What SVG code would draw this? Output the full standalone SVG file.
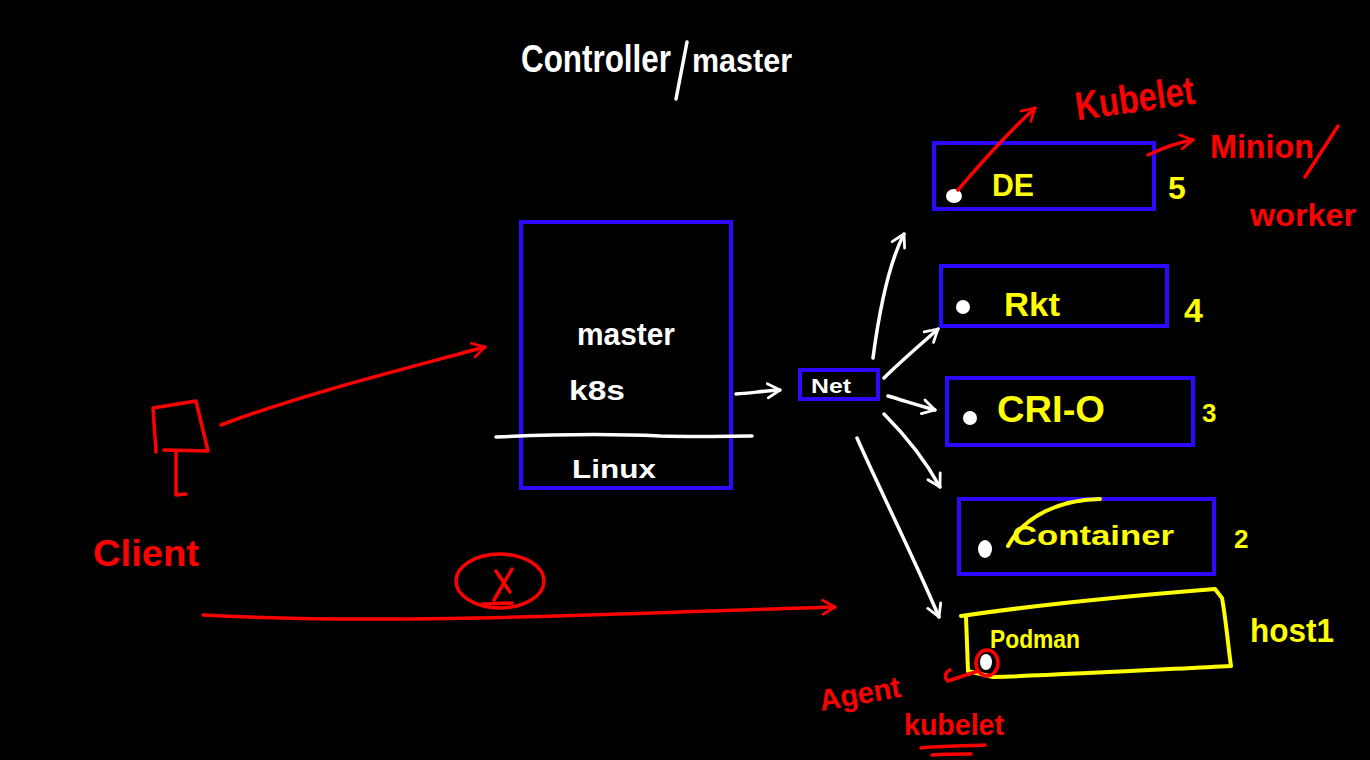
<svg xmlns="http://www.w3.org/2000/svg" width="1370" height="760" viewBox="0 0 1370 760">
<defs>
<style>
.bg{fill:#000}
.box{fill:none;stroke:#2d0aff;stroke-width:4}
.w{fill:none;stroke:#fff;stroke-width:3.5;stroke-linecap:round;stroke-linejoin:round}
.r{fill:none;stroke:#ff0000;stroke-width:3.5;stroke-linecap:round;stroke-linejoin:round}
.y{fill:none;stroke:#ffff00;stroke-width:4;stroke-linecap:round;stroke-linejoin:round}
.t{font-family:"Liberation Sans",Arial,sans-serif;font-weight:bold}
.tw{fill:#fff}.tr{fill:#ff0000}.ty{fill:#ffff00}
.dot{fill:#fff}
</style>
<marker id="aw" viewBox="0 0 10 10" refX="8" refY="5" markerWidth="5" markerHeight="5" orient="auto" markerUnits="strokeWidth"><path d="M1,1 L8,5 L1,9" fill="none" stroke="#fff" stroke-width="1.6" stroke-linecap="round" stroke-linejoin="round"/></marker>
<marker id="ar" viewBox="0 0 10 10" refX="8" refY="5" markerWidth="5" markerHeight="5" orient="auto" markerUnits="strokeWidth"><path d="M1,1 L8,5 L1,9" fill="none" stroke="#ff0000" stroke-width="1.6" stroke-linecap="round" stroke-linejoin="round"/></marker>
</defs>
<rect class="bg" x="0" y="0" width="1370" height="760"/>

<g id="title">
<text class="t tw" x="521" y="72" font-size="38" textLength="150" lengthAdjust="spacingAndGlyphs">Controller</text>
<path class="w" d="M687,42 L676,99"/>
<text class="t tw" x="692" y="72" font-size="34" textLength="100" lengthAdjust="spacingAndGlyphs">master</text>
</g>

<g id="master">
<rect class="box" x="521" y="222" width="210" height="266"/>
<path class="w" d="M496,437 C560,434 620,434 660,436 C700,437 730,436 752,436"/>
<text class="t tw" x="577" y="345" font-size="32" textLength="98" lengthAdjust="spacingAndGlyphs">master</text>
<text class="t tw" x="569" y="400" font-size="28" textLength="56" lengthAdjust="spacingAndGlyphs">k8s</text>
<text class="t tw" x="572" y="478" font-size="26" textLength="84" lengthAdjust="spacingAndGlyphs">Linux</text>
</g>

<g id="net">
<rect class="box" x="800" y="370" width="78" height="29"/>
<text class="t tw" x="811" y="393" font-size="20" textLength="40" lengthAdjust="spacingAndGlyphs">Net</text>
</g>

<g id="node-de">
<rect class="box" x="934" y="143" width="220" height="66"/>
<ellipse class="dot" cx="954" cy="196" rx="8" ry="7"/>
<text class="t ty" x="992" y="196" font-size="32" textLength="42" lengthAdjust="spacingAndGlyphs">DE</text>
<text class="t ty" x="1168" y="199" font-size="32">5</text>
</g>

<g id="node-rkt">
<rect class="box" x="941" y="266" width="226" height="60"/>
<circle class="dot" cx="963" cy="307" r="7"/>
<text class="t ty" x="1004" y="316" font-size="34" textLength="56" lengthAdjust="spacingAndGlyphs">Rkt</text>
<text class="t ty" x="1184" y="322" font-size="34">4</text>
</g>

<g id="node-crio">
<rect class="box" x="947" y="378" width="246" height="67"/>
<circle class="dot" cx="970" cy="418" r="7"/>
<text class="t ty" x="997" y="422" font-size="36" textLength="108" lengthAdjust="spacingAndGlyphs">CRI-O</text>
<text class="t ty" x="1202" y="422" font-size="26">3</text>
</g>

<g id="node-container">
<rect class="box" x="959" y="499" width="255" height="75"/>
<ellipse class="dot" cx="985" cy="549" rx="7" ry="9"/>
<path class="y" d="M1008,546 C1025,515 1060,500 1100,499"/>
<text class="t ty" x="1012" y="545" font-size="28" textLength="162" lengthAdjust="spacingAndGlyphs">Container</text>
<text class="t ty" x="1234" y="548" font-size="26">2</text>
</g>

<g id="node-podman">
<path class="y" d="M961,616 C1050,603 1140,595 1215,589 L1222,598 C1226,620 1228,645 1231,666 C1150,670 1060,675 993,677 L968,671 L966,617"/>
<text class="t ty" x="990" y="648" font-size="26" textLength="90" lengthAdjust="spacingAndGlyphs">Podman</text>
<text class="t ty" x="1250" y="642" font-size="34" textLength="84" lengthAdjust="spacingAndGlyphs">host1</text>
<ellipse class="dot" cx="986" cy="662" rx="6" ry="8"/>
<ellipse class="r" cx="987" cy="663" rx="11" ry="13"/>
<path class="r" d="M978,671 L948,681 C944,678 945,672 950,670"/>
<text class="t tr" x="820" y="704" font-size="30" textLength="82" lengthAdjust="spacingAndGlyphs" transform="rotate(-10 860 700)">Agent</text>
<text class="t tr" x="904" y="735" font-size="30" textLength="100" lengthAdjust="spacingAndGlyphs">kubelet</text>
<path class="r" d="M921,748 C940,746 965,746 985,745"/>
<path class="r" d="M932,755 C945,754 958,754 971,754"/>
</g>

<g id="client">
<path class="r" d="M156,452 L153,408 L196,401 L208,451 L164,450"/>
<path class="r" d="M176,452 L176,495 L186,494"/>
<text class="t tr" x="93" y="566" font-size="36" textLength="106" lengthAdjust="spacingAndGlyphs">Client</text>
</g>

<g id="blocked">
<ellipse class="r" cx="500" cy="581" rx="44" ry="27"/>
<path class="r" d="M496,571 L510,592 M512,569 L494,600"/>
<path class="r" d="M483,604 L512,603"/>
</g>

<g id="annotations">
<text class="t tr" x="1075" y="112" font-size="40" textLength="120" lengthAdjust="spacingAndGlyphs" transform="rotate(-8 1135 100)">Kubelet</text>
<text class="t tr" x="1210" y="158" font-size="34" textLength="104" lengthAdjust="spacingAndGlyphs">Minion</text>
<path class="r" d="M1338,126 L1305,177"/>
<text class="t tr" x="1250" y="226" font-size="32" textLength="106" lengthAdjust="spacingAndGlyphs">worker</text>
</g>

<g id="connectors">
<path class="w" d="M736,394 C750,393 765,391 780,390" marker-end="url(#aw)"/>
<path class="w" d="M873,358 C878,320 888,265 904,234" marker-end="url(#aw)"/>
<path class="w" d="M884,378 C900,362 920,345 938,329" marker-end="url(#aw)"/>
<path class="w" d="M888,396 C905,401 920,406 935,410" marker-end="url(#aw)"/>
<path class="w" d="M884,414 C905,435 925,460 940,487" marker-end="url(#aw)"/>
<path class="w" d="M857,438 C880,490 915,560 939,617" marker-end="url(#aw)"/>
<path class="r" d="M221,425 C300,395 400,370 485,347" marker-end="url(#ar)"/>
<path class="r" d="M203,615 C400,626 650,612 835,607" marker-end="url(#ar)"/>
<path class="r" d="M958,190 C975,170 1000,140 1035,108" marker-end="url(#ar)"/>
<path class="r" d="M1148,155 C1165,147 1180,142 1193,140" marker-end="url(#ar)"/>
</g>
</svg>
